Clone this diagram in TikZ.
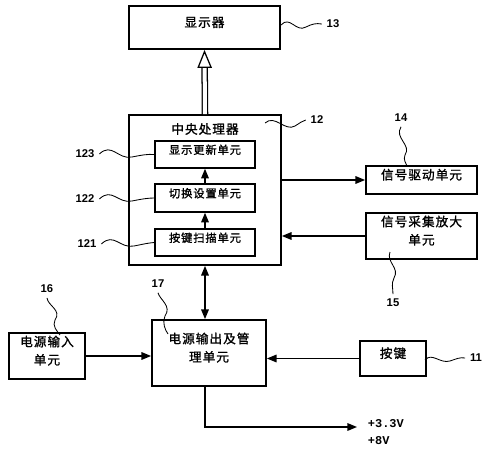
\documentclass[tikz,border=0pt]{standalone}
\usepackage{fontspec}
\newfontfamily\cjk[LetterSpace=8, FakeBold=1.3]{Noto Sans CJK SC}
\newfontfamily\numfont{Liberation Sans}
\newfontfamily\voltfont{Liberation Mono}
\usetikzlibrary{arrows.meta,fit}

\begin{document}
\begin{tikzpicture}[x=0.25mm, y=-0.25mm,
  box/.style={draw, line width=1.3pt, inner sep=0pt, align=center,
    font=\cjk\fontsize{9}{13}\selectfont},
  unitbox/.style={box, line width=1.1pt, font=\cjk\fontsize{8}{10}\selectfont},
  num/.style={font=\numfont\bfseries\fontsize{8}{9}\selectfont},
  wave/.style={line width=0.6pt},
  link/.style={line width=0.9pt},
  >={Triangle[length=2.4mm,width=1.9mm]}]
\useasboundingbox (0,0) rectangle (488,450);
%
\node [box, fit={(129,6) (280,49)}] (disp) {显示器};
\node [box, fit={(129,115) (281,265)}] (cpu) {};
\node [font=\cjk\fontsize{9}{11}\selectfont] (cputitle) at (205,129) {中央处理器};
\node [unitbox, fit={(155,141) (255,168)}] (upd) {显示更新单元};
\node [unitbox, fit={(155,184) (255,212)}] (sw) {切换设置单元};
\node [unitbox, fit={(155,229) (255,256)}] (scan) {按键扫描单元};
\node [box, fit={(366,166) (477,194)}] (drv) {信号驱动单元};
\node [box, fit={(366,213) (477,259)}] (amp) {信号采集放大\\单元};
\node [box, fit={(152,320) (266,386)}] (pwr) {电源输出及管\\理单元};
\node [box, fit={(9,333) (85,379)}] (pin) {电源输入\\单元};
\node [box, fit={(360,341) (426,376)}] (key) {按键};
\node [font=\voltfont\bfseries\fontsize{8.5}{12}\selectfont, align=left, anchor=west] (volt) at (363,432) {+3.3V\\+8V};
\coordinate (out) at (357,427);
%
\node [num] (n13) at (333,24) {13};
\node [num] (n12) at (317,120) {12};
\node [num] (n14) at (401,118) {14};
\node [num] (n15) at (393,303) {15};
\node [num] (n123) at (85,154) {123};
\node [num] (n122) at (85,199) {122};
\node [num] (n121) at (87,244) {121};
\node [num] (n16) at (47,289) {16};
\node [num] (n17) at (158,284) {17};
\node [num] (n11) at (476,358) {11};
%
\draw [link, double, double distance=1mm, -{Triangle[open, length=4.5mm, width=3.6mm]}] (cpu.north) -- (disp.south);
\draw [link, ->] (scan.north) -- (sw.south);
\draw [link, ->] (sw.north) -- (upd.south);
\draw [link, ->] (cpu.east |- drv.west) -- (drv.west);
\draw [link, ->] (amp.west) -- (cpu.east |- amp.west);
\draw [link, <->] (cpu.south) -- (cpu.south |- pwr.north);
\draw [link, ->] (pin.east) -- (pin.east -| pwr.west);
\draw [link, ->] (key.west) -- (key.west -| pwr.east);
\draw [link, ->] (pwr.south -| cpu.south) |- (out);
%
\draw [wave] (281,25) .. controls (290,15) and (296,33) .. (306,27) .. controls (312,24) and (316,23) .. (n13.west);
\draw [wave] (265,123) .. controls (275,114) and (285,132) .. (295,126) .. controls (300,123) and (302,121) .. (n12.west);
\draw [wave] (n123.east) .. controls (112,142) and (118,160) .. (132,157) .. controls (142,155) and (148,154) .. (upd.west);
\draw [wave] (n122.east) .. controls (112,187) and (118,204) .. (132,201) .. controls (142,199) and (148,198) .. (sw.west);
\draw [wave] (n121.east) .. controls (114,232) and (120,249) .. (134,246) .. controls (144,244) and (148,243) .. (scan.west);
\draw [wave] (n14.south) .. controls (394,138) and (412,145) .. (405,155) .. controls (403,160) and (406,163) .. (407,166);
\draw [wave] (390,252) .. controls (386,262) and (400,268) .. (394,278) .. controls (391,284) and (393,288) .. (n15.north);
\draw [wave] (n16.south) .. controls (48,306) and (62,310) .. (55,320) .. controls (52,326) and (57,331) .. (60,335);
\draw [wave] (n17.south) .. controls (160,300) and (172,306) .. (165,316) .. controls (162,322) and (165,330) .. (168,334);
\draw [wave] (425,360) .. controls (432,352) and (440,364) .. (450,361) .. controls (456,359) and (460,357) .. (n11.west);
\end{tikzpicture}
\end{document}
